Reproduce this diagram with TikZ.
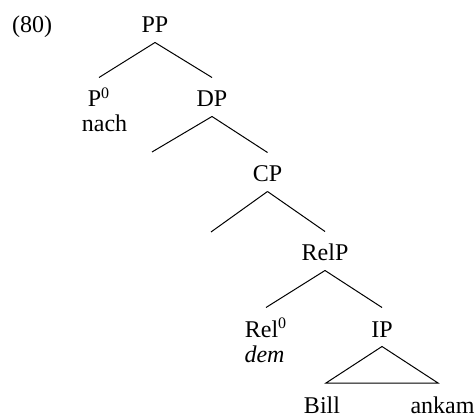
\documentclass[tikz,border=0pt]{standalone}
\usepackage{fontspec}
\setmainfont{Liberation Serif}
% labels sit on their baseline; fixed height keeps branch gaps even
\tikzset{
	cat/.style={anchor=base, inner xsep=0pt, inner ysep=4.5pt, text height=10pt, text depth=0pt},
	word/.style={anchor=base, inner sep=0pt},
}

\begin{document}
\begin{tikzpicture}[x=0.5pt, y=-0.5pt, line width=0.5pt, font=\fontsize{12}{14}\selectfont]
	% 476 x 416 units, y runs downwards
	\useasboundingbox (0,0) rectangle (476,416);
	\node[word] (num) at (32,33) {(80)};
	
	% labels
	\node[cat] (pp) at (155,33) {PP};
	\node[cat] (p0) at (99,107) {P\textsuperscript{0}};
	\node[word] (nach) at (104.5,132) {nach};
	\node[cat] (dp) at (212,107) {DP};
	\node[cat] (cp) at (267.5,182) {CP};
	\node[cat] (relp) at (325,261) {RelP};
	\node[cat] (rel0) at (266,337) {Rel\textsuperscript{0}};
	\node[word] (dem) at (264.5,363) {\textit{dem}};
	\node[cat] (ip) at (382,337) {IP};
	\node[word] (bill) at (322,413) {Bill};
	\node[word] (ankam) at (442.5,413) {ankam};
	
	% empty specifiers
	\coordinate (dpspec) at (152,152);
	\coordinate (cpspec) at (211,232);
	% triangle base
	\coordinate (ipl) at (326,383);
	\coordinate (ipr) at (438,383);
	
	% branches
	\draw (pp.south) -- (p0.north);
	\draw (pp.south) -- (dp.north);
	\draw (dp.south) -- (dpspec);
	\draw (dp.south) -- (cp.north);
	\draw (cp.south) -- (cpspec);
	\draw (cp.south) -- (relp.north);
	\draw (relp.south) -- (rel0.north);
	\draw (relp.south) -- (ip.north);
	\draw (ip.south) -- (ipl) -- (ipr) -- cycle;
\end{tikzpicture}
\end{document}
